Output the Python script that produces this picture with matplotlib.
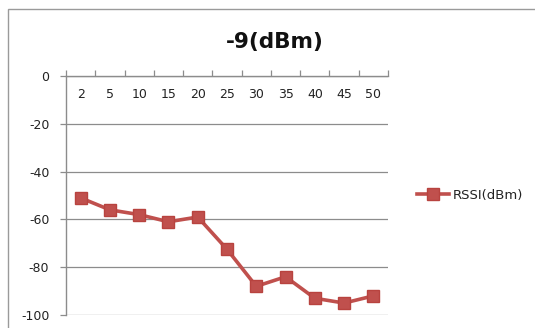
import matplotlib
matplotlib.use("Agg")
import matplotlib.pyplot as plt
from matplotlib.patches import Rectangle
from matplotlib.lines import Line2D
import matplotlib.transforms as mtransforms
import numpy as np

plt.rcParams['font.family'] = ['DejaVu Sans']

distances = ["2", "5", "10", "15", "20", "25", "30", "35", "40", "45", "50"]
rssi = [-51, -56, -58, -61, -59, -72.5, -88, -84, -93, -95, -92]
y_ticks = [0, -20, -40, -60, -80, -100]
title = "-9(dBm)"
series_name = "RSSI(dBm)"

W, H = 535, 328
fig = plt.figure(figsize=(W / 100, H / 100), dpi=100)
fig.patch.set_facecolor("white")

# chart frame
fig.patches.append(Rectangle((8 / W, -0.1), 1.2, 1 - 9 / H + 0.1,
                             transform=fig.transFigure, fill=False,
                             edgecolor="#9a9a9a", linewidth=1.0))

ax = fig.add_axes([66 / W, 1 - 315 / H, (388 - 66) / W, (315 - 76) / H])
x = np.arange(len(distances))
red = "#c0504d"
ax.plot(x, rssi, color=red, linewidth=2.6, marker="s", markersize=8,
        markerfacecolor=red, markeredgecolor="#b8433f", label=series_name)

ax.set_xlim(-0.5, len(distances) - 0.5)
ax.set_ylim(-100, 0)
ax.set_yticks(y_ticks)
ax.set_yticklabels([str(v) for v in y_ticks])
ax.yaxis.grid(True, color="#8c8c8c", linewidth=0.9)
ax.set_axisbelow(True)

for s in ["right", "bottom"]:
    ax.spines[s].set_visible(False)
for s in ["left", "top"]:
    ax.spines[s].set_color("#8c8c8c")
    ax.spines[s].set_linewidth(1.0)

ax.tick_params(axis="y", length=4, width=0.9, color="#8c8c8c", pad=8,
               labelsize=9, labelcolor="#222222")

# category axis sits along y = 0 with boundary tick marks
ax.xaxis.tick_top()
ax.set_xticks(np.arange(len(distances) + 1) - 0.5)
ax.set_xticklabels([])
ax.tick_params(axis="x", which="major", direction="out", length=4, width=0.9,
               color="#8c8c8c")
trans = mtransforms.blended_transform_factory(ax.transData, ax.transAxes)
for xi, lab in zip(x, distances):
    ax.text(xi, 1 - 18.5 / 239, lab, transform=trans, ha="center",
            va="center", fontsize=9, color="#222222")

fig.text(275 / W, 1 - 42 / H, title, ha="center", va="center",
         fontsize=15.5, fontweight="bold", color="#111111")

handle = Line2D([], [], color=red, linewidth=2.6, marker="s", markersize=8,
                markerfacecolor=red, markeredgecolor="#b8433f")
fig.legend([handle], [series_name], loc="center left",
           bbox_to_anchor=(405 / W, 1 - 195 / H), frameon=False,
           fontsize=9.5, handlelength=2.4, handletextpad=0.3,
           labelcolor="#222222")

fig.savefig("out.png", dpi=100, facecolor="white")
